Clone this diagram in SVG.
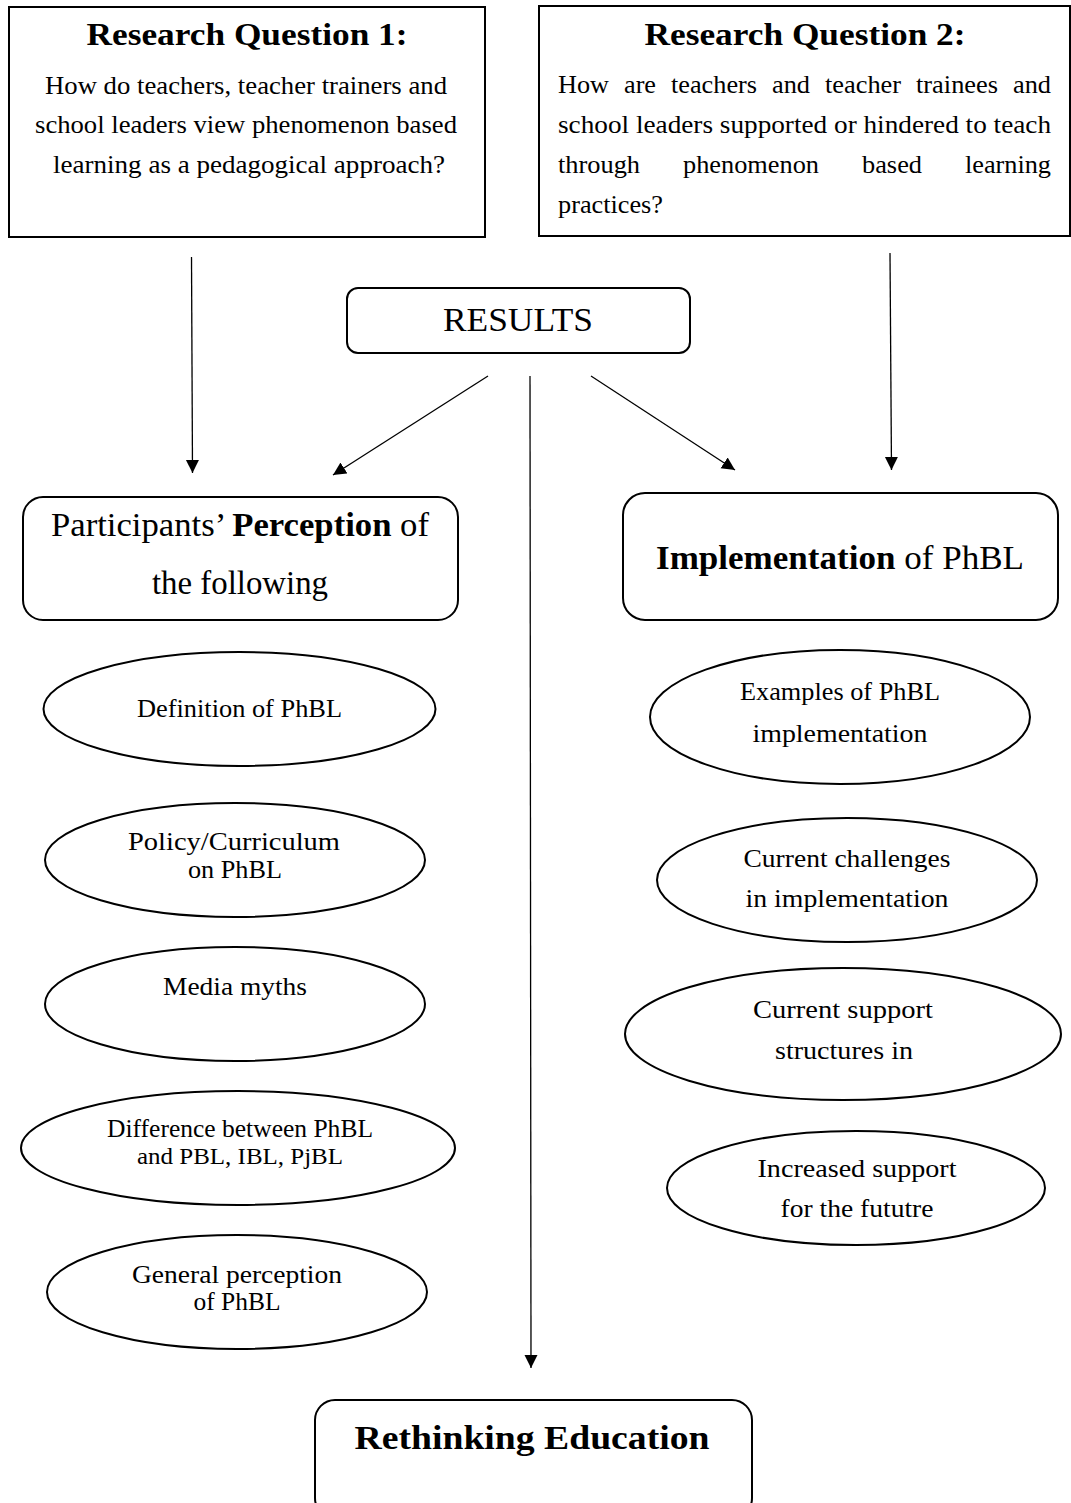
<svg xmlns="http://www.w3.org/2000/svg" width="1071" height="1503" viewBox="0 0 1071 1503">
  <style>
    .box { fill: #ffffff; stroke: #000000; stroke-width: 2; }
    .ell { fill: #ffffff; stroke: #000000; stroke-width: 2; }
    text { font-family: "Liberation Serif", "Times New Roman", serif; fill: #000000; }
    .b { font-weight: bold; }
    .h { font-size: 32px; font-weight: bold; text-anchor: middle; }
    .q { font-size: 25px; }
    .qm { font-size: 25px; text-anchor: middle; }
    .e { font-size: 25px; text-anchor: middle; }
    .m { font-size: 33px; text-anchor: middle; }
    .conn line { stroke: #000000; stroke-width: 1.3; marker-end: url(#ah); }
  </style>
  <defs>
    <marker id="ah" markerUnits="userSpaceOnUse" markerWidth="14" markerHeight="14" refX="13" refY="7" orient="auto">
      <path d="M0,0.5 L13,7 L0,13.5 Z" fill="#000000"/>
    </marker>
  </defs>
  <rect width="1071" height="1503" fill="#ffffff"/>

  <g id="connectors" class="conn">
    <line x1="191.5" y1="257" x2="192.5" y2="473"/>
    <line x1="890" y1="253" x2="891.5" y2="470"/>
    <line x1="488" y1="376" x2="333" y2="475"/>
    <line x1="591" y1="376" x2="735" y2="470"/>
    <line x1="530" y1="376" x2="531" y2="1368"/>
  </g>

  <g id="rq1">
    <rect class="box" x="9" y="7" width="476" height="230"/>
    <text class="h" x="247" y="45" textLength="321" lengthAdjust="spacingAndGlyphs">Research Question 1:</text>
    <text class="qm" x="246" y="94" textLength="402" lengthAdjust="spacingAndGlyphs">How do teachers, teacher trainers and</text>
    <text class="qm" x="246" y="133" textLength="422" lengthAdjust="spacingAndGlyphs">school leaders view phenomenon based</text>
    <text class="qm" x="249" y="173" textLength="392" lengthAdjust="spacingAndGlyphs">learning as a pedagogical approach?</text>
  </g>

  <g id="rq2">
    <rect class="box" x="539" y="6" width="531" height="230"/>
    <text class="h" x="805" y="45" textLength="321" lengthAdjust="spacingAndGlyphs">Research Question 2:</text>
    <text class="q" x="558" y="93" textLength="51" lengthAdjust="spacingAndGlyphs">How</text>
    <text class="q" x="624" y="93" textLength="32" lengthAdjust="spacingAndGlyphs">are</text>
    <text class="q" x="671" y="93" textLength="86" lengthAdjust="spacingAndGlyphs">teachers</text>
    <text class="q" x="772" y="93" textLength="38" lengthAdjust="spacingAndGlyphs">and</text>
    <text class="q" x="825" y="93" textLength="76" lengthAdjust="spacingAndGlyphs">teacher</text>
    <text class="q" x="916" y="93" textLength="82" lengthAdjust="spacingAndGlyphs">trainees</text>
    <text class="q" x="1013" y="93" textLength="38" lengthAdjust="spacingAndGlyphs">and</text>
    <text class="q" x="558" y="133" textLength="493" lengthAdjust="spacingAndGlyphs">school leaders supported or hindered to teach</text>
    <text class="q" x="558" y="173" textLength="82" lengthAdjust="spacingAndGlyphs">through</text>
    <text class="q" x="683" y="173" textLength="136" lengthAdjust="spacingAndGlyphs">phenomenon</text>
    <text class="q" x="862" y="173" textLength="60" lengthAdjust="spacingAndGlyphs">based</text>
    <text class="q" x="965" y="173" textLength="86" lengthAdjust="spacingAndGlyphs">learning</text>
    <text class="q" x="558" y="213" textLength="105" lengthAdjust="spacingAndGlyphs">practices?</text>
  </g>

  <g id="results">
    <rect class="box" x="347" y="288" width="343" height="65" rx="11"/>
    <text x="518" y="331" font-size="34" text-anchor="middle" textLength="150" lengthAdjust="spacingAndGlyphs">RESULTS</text>
  </g>

  <g id="perception">
    <rect class="box" x="23" y="497" width="435" height="123" rx="20"/>
    <text class="m" x="240" y="536" textLength="378" lengthAdjust="spacingAndGlyphs">Participants’ <tspan class="b">Perception</tspan> of</text>
    <text class="m" x="240" y="594" textLength="176" lengthAdjust="spacingAndGlyphs">the following</text>
  </g>

  <g id="implementation">
    <rect class="box" x="623" y="493" width="435" height="127" rx="22"/>
    <text class="m" x="840" y="569" textLength="368" lengthAdjust="spacingAndGlyphs"><tspan class="b">Implementation</tspan> of PhBL</text>
  </g>

  <g id="definition">
    <ellipse class="ell" cx="239.5" cy="709" rx="196" ry="57"/>
    <text class="e" x="239.5" y="717" textLength="205" lengthAdjust="spacingAndGlyphs">Definition of PhBL</text>
  </g>
  <g id="policy">
    <ellipse class="ell" cx="235" cy="860" rx="190" ry="57"/>
    <text class="e" x="234" y="850" textLength="212" lengthAdjust="spacingAndGlyphs">Policy/Curriculum</text>
    <text class="e" x="235" y="878" textLength="94" lengthAdjust="spacingAndGlyphs">on PhBL</text>
  </g>
  <g id="media">
    <ellipse class="ell" cx="235" cy="1004" rx="190" ry="57"/>
    <text class="e" x="235" y="995" textLength="144" lengthAdjust="spacingAndGlyphs">Media myths</text>
  </g>
  <g id="difference">
    <ellipse class="ell" cx="238" cy="1148" rx="217" ry="57"/>
    <text class="e" x="240" y="1137" textLength="266" lengthAdjust="spacingAndGlyphs">Difference between PhBL</text>
    <text class="e" x="240" y="1164" font-size="23" textLength="206" lengthAdjust="spacingAndGlyphs" style="font-size:23px">and PBL, IBL, PjBL</text>
  </g>
  <g id="general">
    <ellipse class="ell" cx="237" cy="1292" rx="190" ry="57"/>
    <text class="e" x="237" y="1283" textLength="210" lengthAdjust="spacingAndGlyphs">General perception</text>
    <text class="e" x="237" y="1310" textLength="87" lengthAdjust="spacingAndGlyphs">of PhBL</text>
  </g>

  <g id="examples">
    <ellipse class="ell" cx="840" cy="717" rx="190" ry="67"/>
    <text class="e" x="840" y="700" textLength="200" lengthAdjust="spacingAndGlyphs">Examples of PhBL</text>
    <text class="e" x="840" y="742" textLength="175" lengthAdjust="spacingAndGlyphs">implementation</text>
  </g>
  <g id="challenges">
    <ellipse class="ell" cx="847" cy="880" rx="190" ry="62"/>
    <text class="e" x="847" y="867" textLength="207" lengthAdjust="spacingAndGlyphs">Current challenges</text>
    <text class="e" x="847" y="907" textLength="203" lengthAdjust="spacingAndGlyphs">in implementation</text>
  </g>
  <g id="support">
    <ellipse class="ell" cx="843" cy="1034" rx="218" ry="66"/>
    <text class="e" x="843" y="1018" textLength="180" lengthAdjust="spacingAndGlyphs">Current support</text>
    <text class="e" x="844" y="1059" textLength="138" lengthAdjust="spacingAndGlyphs">structures in</text>
  </g>
  <g id="increased">
    <ellipse class="ell" cx="856" cy="1188" rx="189" ry="57"/>
    <text class="e" x="857" y="1177" textLength="199" lengthAdjust="spacingAndGlyphs">Increased support</text>
    <text class="e" x="857" y="1217" textLength="153" lengthAdjust="spacingAndGlyphs">for the fututre</text>
  </g>

  <g id="rethinking">
    <rect class="box" x="315" y="1400" width="437" height="118" rx="20"/>
    <text x="532" y="1449" font-size="34" font-weight="bold" text-anchor="middle" textLength="355" lengthAdjust="spacingAndGlyphs">Rethinking Education</text>
  </g>
</svg>
